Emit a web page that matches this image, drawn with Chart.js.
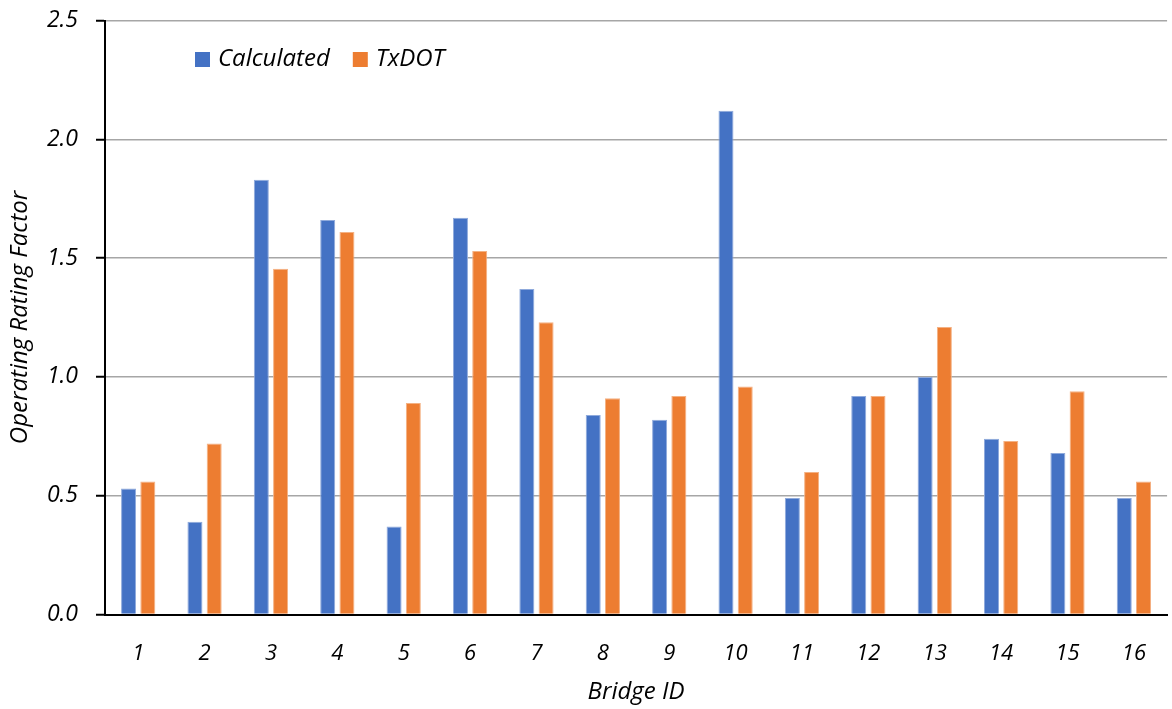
<!DOCTYPE html>
<html>
<head>
<meta charset="utf-8">
<script src="https://cdn.jsdelivr.net/npm/chart.js@4.4.0/dist/chart.umd.min.js"></script>
<style>
  html, body { margin: 0; padding: 0; background: #fff; }
  #wrap { position: relative; width: 1172px; height: 709px; }
</style>
</head>
<body>
<div id="wrap"><canvas id="ratingChart"></canvas></div>
<script>
// Data
const bridgeIds = ['1', '2', '3', '4', '5', '6', '7', '8', '9', '10', '11', '12', '13', '14', '15', '16'];
const calculated = [0.53, 0.39, 1.83, 1.66, 0.37, 1.67, 1.37, 0.84, 0.82, 2.12, 0.49, 0.92, 1.00, 0.74, 0.68, 0.49];
const txdot = [0.56, 0.72, 1.455, 1.61, 0.89, 1.53, 1.23, 0.91, 0.92, 0.96, 0.60, 0.92, 1.21, 0.73, 0.94, 0.56];
const yMin = 0;
const yMax = 2.5;
const yStep = 0.5;

const fontFamily = '"Open Sans", Lato, sans-serif';

// Legend drawn inside the plot area, top left
const legendInside = {
    id: 'legendInside',
    afterDraw(chart) {
        const ctx = chart.ctx;
        ctx.save();
        ctx.font = 'italic 24px ' + fontFamily;
        ctx.textBaseline = 'middle';
        let x = chart.chartArea.left + 90;
        const y = chart.chartArea.top + 39;
        chart.data.datasets.forEach(ds => {
            ctx.fillStyle = ds.backgroundColor;
            ctx.fillRect(x, y - 7.5, 15, 15);
            ctx.fillStyle = '#000';
            ctx.fillText(ds.label, x + 23, y);
            x += 23 + ctx.measureText(ds.label).width + 23;
        });
        ctx.restore();
    }
};

document.addEventListener('DOMContentLoaded', () => {
    const canvas = document.getElementById('ratingChart');

    new Chart(canvas.getContext('2d'), {
        type: 'bar',
        data: {
            labels: bridgeIds,
            datasets: [
                {
                    label: 'Calculated',
                    data: calculated,
                    backgroundColor: '#4472C4',
                    borderColor: '#8faadc',
                    borderWidth: { top: 1, left: 1, right: 1, bottom: 0 },
                    categoryPercentage: 0.58,
                    barPercentage: 0.78
                },
                {
                    label: 'TxDOT',
                    data: txdot,
                    backgroundColor: '#ED7D31',
                    borderColor: '#f4b183',
                    borderWidth: { top: 1, left: 1, right: 1, bottom: 0 },
                    categoryPercentage: 0.58,
                    barPercentage: 0.78
                }
            ]
        },
        options: {
            responsive: true,
            maintainAspectRatio: false,
            animation: false,
            layout: { padding: { top: 20.5, left: 6, right: 0, bottom: 2 } },
            plugins: {
                legend: { display: false },
                tooltip: { enabled: false }
            },
            scales: {
                x: {
                    grid: { display: false, drawTicks: false },
                    border: { display: true, color: '#000', width: 2 },
                    ticks: {
                        color: '#000',
                        padding: 26,
                        font: { family: fontFamily, size: 22, style: 'italic' }
                    },
                    title: {
                        display: true,
                        text: 'Bridge ID',
                        color: '#000',
                        padding: 0,
                        font: { family: fontFamily, size: 24, style: 'italic' }
                    },
                    afterFit(scale) { scale.height = 92.5; }
                },
                y: {
                    min: yMin,
                    max: yMax,
                    grid: {
                        color: '#a6a6a6',
                        lineWidth: 1.5,
                        tickColor: '#000',
                        tickLength: 9,
                        tickWidth: 2
                    },
                    border: { display: true, color: '#000', width: 2 },
                    ticks: {
                        stepSize: yStep,
                        color: '#000',
                        padding: 18,
                        font: { family: fontFamily, size: 23, style: 'italic' },
                        callback: value => Number(value).toFixed(1)
                    },
                    title: {
                        display: true,
                        text: 'Operating Rating Factor',
                        color: '#000',
                        padding: 0,
                        font: { family: fontFamily, size: 24, style: 'italic' }
                    },
                    afterFit(scale) {
                        scale.width = 99;
                        scale.paddingTop = 0;
                        scale.paddingBottom = 0;
                    }
                }
            }
        },
        plugins: [legendInside]
    });
});
</script>
</body>
</html>
